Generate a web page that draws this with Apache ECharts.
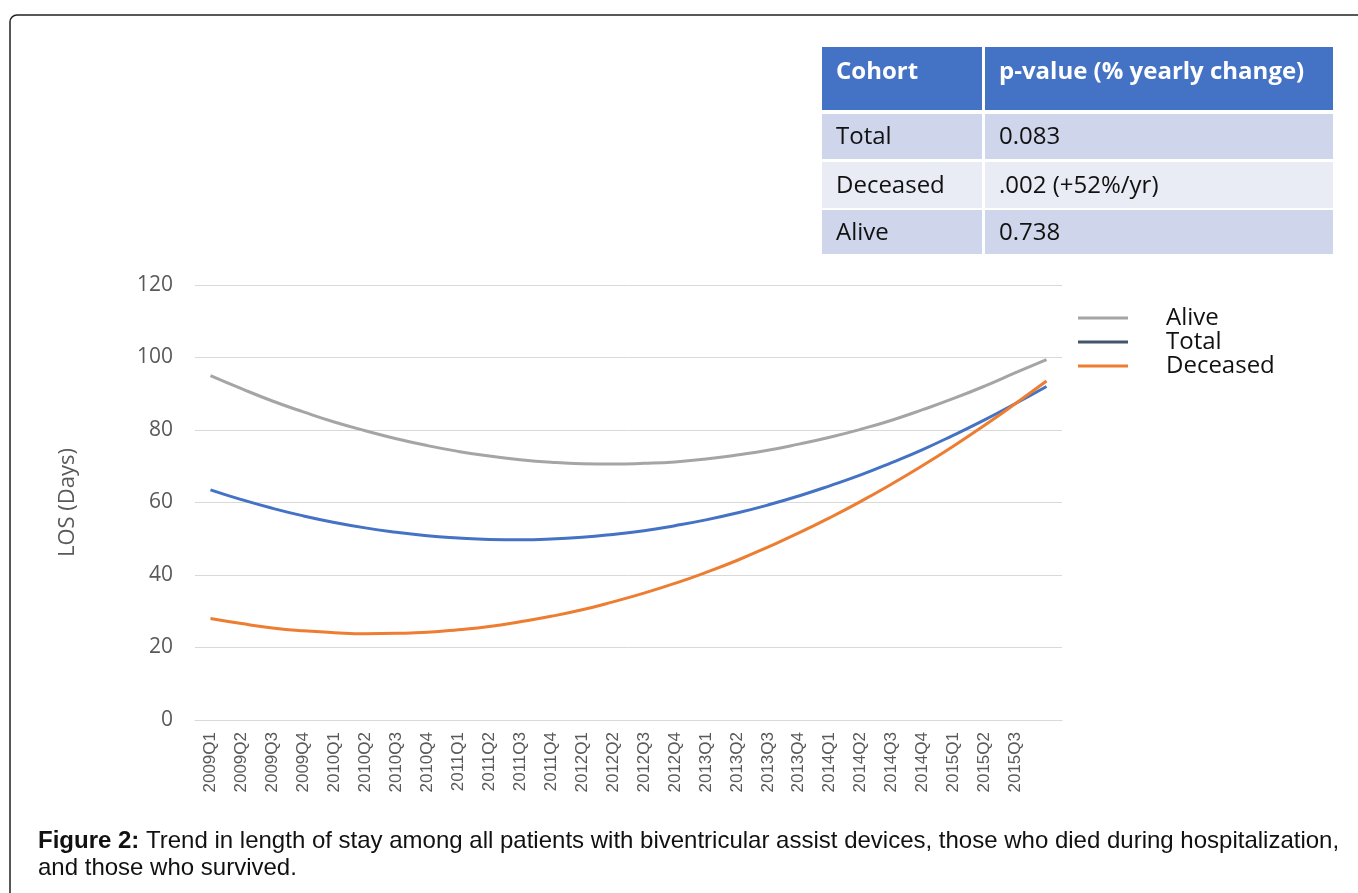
<!DOCTYPE html>
<html>
<head>
<meta charset="utf-8">
<script src="https://cdn.jsdelivr.net/npm/echarts@6/dist/echarts.min.js"></script>
<style>
  html, body { margin: 0; padding: 0; background: #fff; }
  #chart { width: 1358px; height: 893px; }
</style>
</head>
<body>
<div id="chart"></div>
<script>
// quarters on the x axis (last one has no label in the figure)
var quarters = [
  '2009Q1', '2009Q2', '2009Q3', '2009Q4', '2010Q1', '2010Q2', '2010Q3', '2010Q4',
  '2011Q1', '2011Q2', '2011Q3', '2011Q4', '2012Q1', '2012Q2', '2012Q3', '2012Q4',
  '2013Q1', '2013Q2', '2013Q3', '2013Q4', '2014Q1', '2014Q2', '2014Q3', '2014Q4',
  '2015Q1', '2015Q2', '2015Q3', '2015Q4'
]
var alive = [95.0, 91.4, 88.0, 85.0, 82.2, 79.8, 77.6, 75.7, 74.1, 72.8, 71.8, 71.1, 70.7, 70.6,
  70.8, 71.2, 72.0, 73.1, 74.4, 76.1, 78.0, 80.2, 82.7, 85.6, 88.7, 92.1, 95.8, 99.4]
var total = [63.5, 60.8, 58.4, 56.3, 54.5, 53.0, 51.8, 50.8, 50.2, 49.8, 49.7, 49.9, 50.4, 51.2,
  52.2, 53.6, 55.2, 57.1, 59.3, 61.8, 64.6, 67.6, 71.0, 74.6, 78.6, 82.8, 87.3, 92.0]
var deceased = [28.0, 26.6, 25.4, 24.6, 24.1, 23.8, 23.9, 24.2, 24.9, 25.8, 27.1, 28.6, 30.4, 32.6,
  35.0, 37.7, 40.7, 44.0, 47.7, 51.6, 55.8, 60.3, 65.1, 70.2, 75.6, 81.3, 87.3, 93.5]

// inset table
var tableHeader = ['Cohort', 'p-value (% yearly change)']
var tableRows = [
  ['Total', '0.083'],
  ['Deceased', '.002 (+52%/yr)'],
  ['Alive', '0.738']
]

var chart = echarts.init(document.getElementById('chart'))

// build table graphics
var tbl = []
var colX = [822, 985]
var colW = [160, 348]
var rowY = [114, 162, 210]
var rowH = [45, 46, 44]
var rowFill = ['#cfd5ea', '#e9ebf5', '#cfd5ea']
tableHeader.forEach(function (t, c) {
  tbl.push({ type: 'rect', shape: { x: colX[c], y: 47, width: colW[c], height: 63 }, style: { fill: '#4472c4' } })
  tbl.push({ type: 'text', x: colX[c] + 14, y: 72,
    style: { text: t, fill: '#fff', font: 'bold 24px "Open Sans"', verticalAlign: 'middle' } })
})
tableRows.forEach(function (row, r) {
  row.forEach(function (t, c) {
    tbl.push({ type: 'rect', shape: { x: colX[c], y: rowY[r], width: colW[c], height: rowH[r] }, style: { fill: rowFill[r] } })
    tbl.push({ type: 'text', x: colX[c] + 14, y: rowY[r] + rowH[r] / 2 + 1,
      style: { text: t, fill: '#111', font: '24px "Open Sans"', verticalAlign: 'middle' } })
  })
})

chart.setOption({
  animation: false,
  grid: { left: 195, right: 296, top: 285, bottom: 173 },
  legend: {
    orient: 'vertical',
    left: 1073,
    top: 301,
    itemGap: 0,
    itemWidth: 50,
    itemHeight: 3,
    icon: 'rect',
    textStyle: { fontSize: 24, fontFamily: 'Open Sans', color: '#111', lineHeight: 24, padding: [0, 0, 0, 33] },
    data: [
      { name: 'Alive', itemStyle: { color: '#a5a5a5' } },
      { name: 'Total', itemStyle: { color: '#44546a' } },
      { name: 'Deceased', itemStyle: { color: '#ed7d31' } }
    ]
  },
  xAxis: {
    type: 'category',
    data: quarters,
    boundaryGap: true,
    axisLine: { lineStyle: { color: '#d9d9d9' } },
    axisTick: { show: false },
    axisLabel: {
      rotate: 90,
      interval: 0,
      margin: 12,
      fontSize: 17,
      fontFamily: 'Liberation Sans',
      color: '#595959',
      formatter: function (v, i) { return i === quarters.length - 1 ? '' : v }
    }
  },
  yAxis: {
    type: 'value',
    min: 0,
    max: 120,
    interval: 20,
    name: 'LOS (Days)',
    nameLocation: 'middle',
    nameGap: 116,
    nameTextStyle: { fontSize: 22, fontFamily: 'Open Sans', color: '#595959' },
    axisLine: { show: false },
    axisTick: { show: false },
    axisLabel: { margin: 22, fontSize: 21, fontFamily: 'Open Sans', color: '#595959' },
    splitLine: { lineStyle: { color: '#d9d9d9' } }
  },
  series: [
    { name: 'Alive', type: 'line', data: alive, smooth: true, showSymbol: false,
      lineStyle: { width: 3, color: '#a5a5a5' }, itemStyle: { color: '#a5a5a5' } },
    { name: 'Total', type: 'line', data: total, smooth: true, showSymbol: false,
      lineStyle: { width: 3, color: '#4472c4' }, itemStyle: { color: '#44546a' } },
    { name: 'Deceased', type: 'line', data: deceased, smooth: true, showSymbol: false,
      lineStyle: { width: 3, color: '#ed7d31' }, itemStyle: { color: '#ed7d31' } }
  ],
  graphic: [
    { type: 'rect', shape: { x: 10, y: 15, width: 1400, height: 1000, r: 7 },
      style: { fill: 'none', stroke: '#222', lineWidth: 1.5 }, z: -1 },
    { type: 'group', children: tbl },
    { type: 'text', x: 38, y: 828,
      style: {
        text: '{b|Figure 2:} Trend in length of stay among all patients with biventricular assist devices, those who died during hospitalization,\nand those who survived.',
        font: '24px "Liberation Sans"',
        fill: '#111',
        lineHeight: 27,
        rich: { b: { fontWeight: 'bold', fontSize: 24, fontFamily: 'Liberation Sans', fill: '#111' } }
      } }
  ]
})
</script>
</body>
</html>
